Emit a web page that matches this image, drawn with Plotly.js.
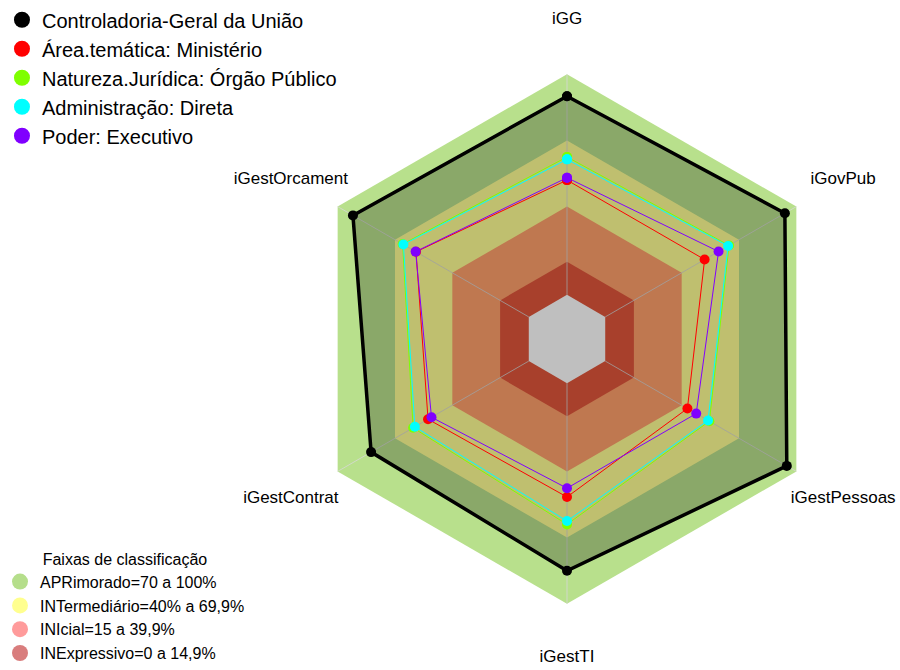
<!DOCTYPE html>
<html>
<head>
<meta charset="utf-8">
<script src="https://cdn.plot.ly/plotly-3.0.1.min.js"></script>
<style>html,body{margin:0;padding:0;background:#fff;}#chart{width:900px;height:670px;}</style>
</head>
<body>
<div id="chart"></div>
<script>
// ---- data ----
const categories = ['iGG', 'iGovPub', 'iGestPessoas', 'iGestTI', 'iGestContrat', 'iGestOrcament'];
const seriesNames = ['Controladoria-Geral da União', 'Área.temática: Ministério', 'Natureza.Jurídica: Órgão Público', 'Administração: Direta', 'Poder: Executivo'];
const cguValues = [0.90, 0.94, 0.95, 0.85, 0.825, 0.92];
const ministerioValues = [0.52, 0.52, 0.43, 0.516, 0.527, 0.59];
const orgaoPublicoValues = [0.625, 0.648, 0.545, 0.64, 0.605, 0.66];
const diretaValues = [0.614, 0.643, 0.538, 0.625, 0.596, 0.656];
const executivoValues = [0.531, 0.593, 0.476, 0.476, 0.509, 0.592];
const bandNames = ['APRimorado=70 a 100%', 'INTermediário=40% a 69,9%', 'INIcial=15 a 39,9%', 'INExpressivo=0 a 14,9%'];
const bandUpper = [1.0, 0.7, 0.4, 0.15];
const bandFloor = 0;

// ---- styles ----
const FONT = 'Liberation Sans, Arial, sans-serif';
const LABEL_R = 1.245;
const seriesColors = ['#000000', '#FF0000', '#7FFF00', '#00FFFF', '#8000FF'];
const seriesValues = [cguValues, ministerioValues, orgaoPublicoValues, diretaValues, executivoValues];
const bandFill = ['#B8E08C', '#FFFF94', '#FFA06B', '#E0563B'];
const bandLegendColor = ['#B5DE8B', '#FFFF8F', '#FF9B9B', '#D97D7D'];

function closeLoop(a) { return a.concat([a[0]]); }
const thetaClosed = closeLoop(categories);
const traces = [];

// bands (largest first)
bandUpper.forEach((v, i) => {
  traces.push({
    type: 'scatterpolar', mode: 'none', fill: 'toself', fillcolor: bandFill[i],
    r: categories.map(() => v), theta: categories, showlegend: false, hoverinfo: 'skip'
  });
});
// uncovered center
traces.push({
  type: 'scatterpolar', mode: 'none', fill: 'toself', fillcolor: '#FFFFFF',
  r: categories.map(() => bandFloor), theta: categories, showlegend: false, hoverinfo: 'skip'
});
// spokes
const spokeR = [], spokeT = [];
categories.forEach(c => { spokeR.push(bandFloor, bandUpper[0], null); spokeT.push(c, c, null); });
traces.push({
  type: 'scatterpolar', mode: 'lines', r: spokeR, theta: spokeT,
  line: {color: 'rgba(215,215,215,0.8)', width: 1}, showlegend: false, hoverinfo: 'skip'
});

// series
seriesValues.forEach((vals, i) => {
  const isMain = i === 0;
  traces.push({
    type: 'scatterpolar', mode: 'lines+markers',
    r: closeLoop(vals), theta: thetaClosed, name: seriesNames[i],
    fill: isMain ? 'toself' : 'none', fillcolor: 'rgba(0,0,0,0.25)',
    line: {color: seriesColors[i], width: isMain ? 3.5 : 1},
    marker: {color: seriesColors[i], size: 10},
    showlegend: false
  });
});

// axis labels
traces.push({
  type: 'scatterpolar', mode: 'text', r: categories.map(() => LABEL_R), theta: categories,
  text: categories, textposition: 'middle center', cliponaxis: false,
  textfont: {family: FONT, size: 17, color: '#000'}, showlegend: false, hoverinfo: 'skip'
});

// legend entries
seriesNames.forEach((n, i) => {
  traces.push({type: 'scatterpolar', mode: 'markers', r: [null], theta: [categories[0]], name: n,
    marker: {color: seriesColors[i], size: 16}, legend: 'legend'});
});
bandNames.forEach((n, i) => {
  traces.push({type: 'scatterpolar', mode: 'markers', r: [null], theta: [categories[0]], name: n,
    marker: {color: bandLegendColor[i], size: 16}, legend: 'legend2'});
});

const layout = {
  width: 900, height: 670,
  margin: {l: 0, r: 0, t: 15, b: 7},
  paper_bgcolor: '#fff',
  font: {family: FONT, color: '#000'},
  polar: {
    domain: {x: [0.26, 1], y: [0, 1]},
    bgcolor: 'rgba(0,0,0,0)',
    gridshape: 'linear',
    radialaxis: {range: [-0.2, 1.25], showgrid: false, showticklabels: false, ticks: '', showline: false},
    angularaxis: {type: 'category', categoryarray: categories, direction: 'clockwise', rotation: 90,
      showgrid: false, showticklabels: false, ticks: '', showline: false}
  },
  legend: {xref: 'paper', yref: 'paper', x: 0.0022, y: 1.0293, xanchor: 'left', yanchor: 'top',
    font: {family: FONT, size: 20}, bgcolor: 'rgba(0,0,0,0)', traceorder: 'normal'},
  legend2: {xref: 'paper', yref: 'paper', x: 0, y: -0.017, xanchor: 'left', yanchor: 'bottom',
    font: {family: FONT, size: 16}, bgcolor: 'rgba(0,0,0,0)', traceorder: 'normal',
    title: {text: 'Faixas de classificação', side: 'top center', font: {family: FONT, size: 16}}},
  showlegend: true
};

Plotly.newPlot('chart', traces, layout, {displayModeBar: false, staticPlot: true});
</script>
</body>
</html>
